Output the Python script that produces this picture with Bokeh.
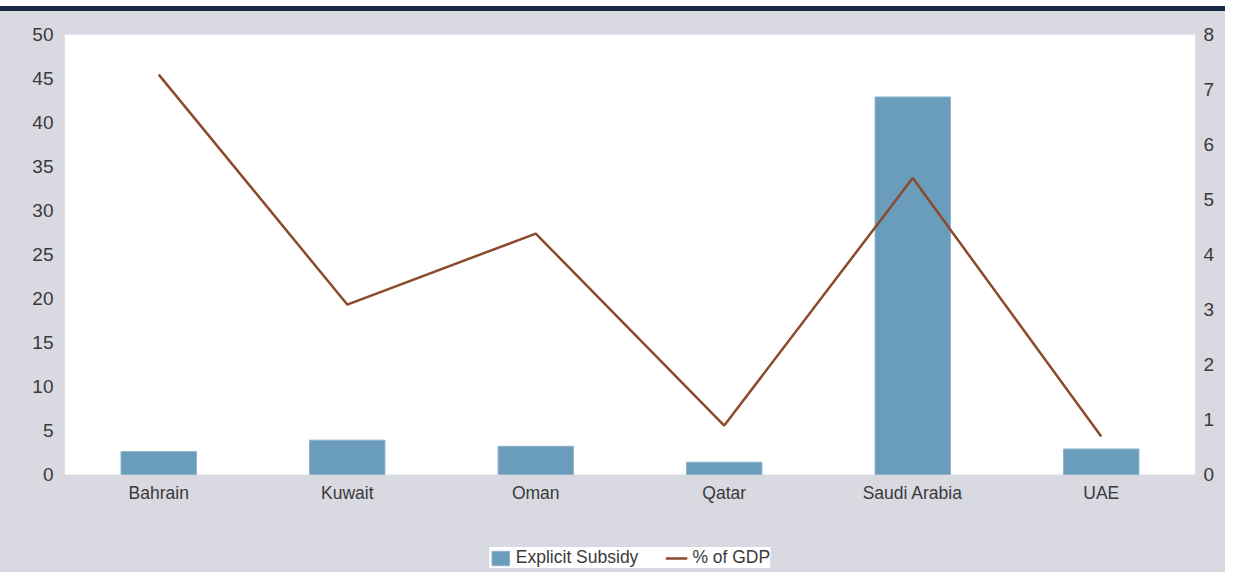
from bokeh.plotting import figure
from bokeh.models import Range1d, LinearAxis, Legend, LegendItem, FactorRange, FixedTicker, BoxAnnotation
from bokeh.embed import file_html
from bokeh.resources import INLINE

countries = ["Bahrain", "Kuwait", "Oman", "Qatar", "Saudi Arabia", "UAE"]
explicit_subsidy = [2.6, 3.9, 3.2, 1.4, 42.9, 2.9]
pct_of_gdp = [7.27, 3.09, 4.38, 0.89, 5.39, 0.69]
left_ticks = [0, 5, 10, 15, 20, 25, 30, 35, 40, 45, 50]
right_ticks = [0, 1, 2, 3, 4, 5, 6, 7, 8]
LEFT_MAX = 50
RIGHT_MAX = 8

BG = "#D9D9E1"
NAVY = "#1B2B47"
BAR = "#6A9CBC"
LINE = "#8B4A2B"
TXT = "#3A3A3A"
SANS = "'Liberation Sans', Arial, sans-serif"

# layout geometry (pixels): white plot area 440px tall, 103px of grey below it
PLOT_H = 440
BELOW_H = 103
pad = BELOW_H / PLOT_H

p = figure(width=1225, height=566,
           x_range=FactorRange(*countries),
           y_range=Range1d(-LEFT_MAX * pad, LEFT_MAX),
           output_backend="svg", toolbar_location=None,
           min_border_left=64, min_border_right=30,
           min_border_top=23, min_border_bottom=0,
           background_fill_color=BG, border_fill_color=None,
           outline_line_color=None)
p.styles = {"margin-top": "6px", "border-top": "5px solid " + NAVY,
            "background-color": BG}
p.extra_y_ranges = {"pct": Range1d(-RIGHT_MAX * pad, RIGHT_MAX)}

white_area = BoxAnnotation(bottom=0, fill_color="white", fill_alpha=1.0,
                           line_color=None, level="underlay")
p.add_layout(white_area)

bars = p.vbar(x=countries, top=explicit_subsidy, width=0.4,
              fill_color=BAR, line_color="#8DB3CC", line_width=1)
line = p.line(x=countries, y=pct_of_gdp, y_range_name="pct",
              line_color=LINE, line_width=2.5)

right = LinearAxis(y_range_name="pct", ticker=FixedTicker(ticks=right_ticks))
p.add_layout(right, "right")

p.yaxis[0].ticker = FixedTicker(ticks=left_ticks)
for ax in p.yaxis:
    ax.axis_line_color = None
    ax.major_tick_line_color = None
    ax.minor_tick_line_color = None
    ax.major_tick_out = 0
    ax.minor_tick_out = 0
    ax.major_label_text_font = SANS
    ax.major_label_text_font_size = "19px"
    ax.major_label_text_color = TXT
p.yaxis[0].major_label_standoff = 11
right.major_label_standoff = 8

p.xaxis.fixed_location = 0
p.xaxis.axis_line_color = None
p.xaxis.major_tick_line_color = None
p.xaxis.major_tick_out = 0
p.xaxis.major_label_text_font = SANS
p.xaxis.major_label_text_font_size = "17.5px"
p.xaxis.major_label_text_color = TXT
p.xaxis.major_label_standoff = 8
p.xgrid.visible = False
p.ygrid.visible = False

legend = Legend(items=[LegendItem(label="Explicit Subsidy", renderers=[bars]),
                       LegendItem(label="% of GDP", renderers=[line])],
                orientation="horizontal", location="bottom",
                background_fill_color="white", background_fill_alpha=1.0,
                border_line_color=None,
                label_text_font=SANS, label_text_font_size="17.5px",
                label_text_color=TXT, glyph_width=22, glyph_height=18,
                label_height=20, label_standoff=5, spacing=27,
                padding=20, margin=9)
p.add_layout(legend)

open("out.html", "w").write(file_html(p, INLINE))
